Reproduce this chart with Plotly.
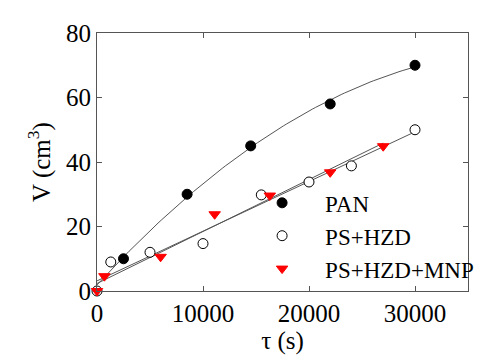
import numpy as np
import plotly.graph_objects as go

pan_x = [2500, 8500, 14500, 22000, 30000]
pan_y = [10, 30, 45, 58, 70]
hzd_x = [0, 1300, 5000, 10000, 15500, 20000, 24000, 30000]
hzd_y = [0, 9, 12, 14.7, 29.8, 33.8, 38.8, 50]
mnp_x = [0, 700, 6000, 11100, 16300, 22000, 27000]
mnp_y = [0, 4.6, 10.6, 23.8, 29.6, 36.8, 44.9]

x_ticks = [0, 10000, 20000, 30000]
y_ticks = [0, 20, 40, 60, 80]

FONT = "Liberation Serif, Times New Roman, serif"
LINE_COL = "#555555"

fig = go.Figure()

# fit curves derived from the data
def fit_line(xs, ys, deg, x_end):
    c = np.polyfit(xs, ys, deg)
    xx = np.linspace(0, x_end, 100)
    return xx, np.polyval(c, xx)

for xs, ys, deg in [(pan_x, pan_y, 2), (hzd_x, hzd_y, 1), (mnp_x, mnp_y, 1)]:
    xx, yy = fit_line(xs, ys, deg, max(xs))
    fig.add_trace(go.Scatter(x=xx, y=yy, mode="lines", showlegend=False,
                             line=dict(color=LINE_COL, width=1), hoverinfo="skip"))

fig.add_trace(go.Scatter(x=pan_x, y=pan_y, mode="markers", name="PAN", cliponaxis=False,
                         marker=dict(symbol="circle", size=10, color="black",
                                     line=dict(color="black", width=1))))
fig.add_trace(go.Scatter(x=hzd_x, y=hzd_y, mode="markers", name="PS+HZD", cliponaxis=False,
                         marker=dict(symbol="circle", size=10, color="white",
                                     line=dict(color="black", width=1))))
fig.add_trace(go.Scatter(x=mnp_x, y=mnp_y, mode="markers", name="PS+HZD+MNP", cliponaxis=False,
                         marker=dict(symbol="triangle-down", size=10, color="red",
                                     line=dict(color="red", width=1))))

axis_common = dict(showgrid=False, zeroline=False, showline=True, linecolor="#555555",
                   linewidth=1, mirror="ticks", ticks="inside", ticklen=5,
                   tickcolor="#555555",
                   tickfont=dict(family=FONT, size=25, color="black"))

fig.update_xaxes(range=[0, 35000], tickvals=x_ticks, ticktext=[str(v) for v in x_ticks],
                 title=dict(text="τ (s)", font=dict(family=FONT, size=25, color="black"),
                            standoff=4),
                 **axis_common)
fig.update_yaxes(range=[0, 80], tickvals=y_ticks, ticktext=[str(v) for v in y_ticks],
                 title=dict(text="V (cm<sup>3</sup>)", font=dict(family=FONT, size=25, color="black"),
                            standoff=8),
                 **axis_common)

fig.update_layout(
    width=495, height=360,
    margin=dict(l=89, r=35, t=17, b=77),
    paper_bgcolor="white", plot_bgcolor="white",
    legend=dict(x=0.383, y=0.425, xanchor="left", yanchor="top",
                font=dict(family=FONT, size=23, color="black"),
                bgcolor="rgba(0,0,0,0)", tracegroupgap=0, itemwidth=76),
)

fig.write_html("out.html")
